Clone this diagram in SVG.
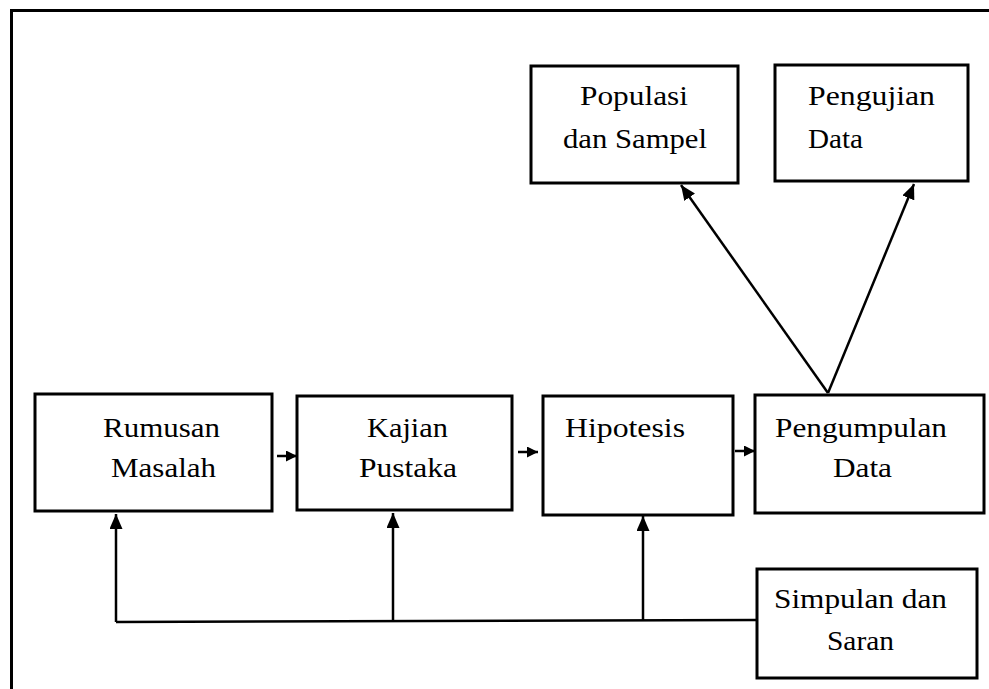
<svg xmlns="http://www.w3.org/2000/svg" width="989" height="689" viewBox="0 0 989 689">
<style>
.box{fill:#fff;stroke:#000;stroke-width:3}
.lbl{font-family:"Liberation Serif","Times New Roman",serif;font-size:28px;fill:#000}
.con{stroke:#000;stroke-width:2.5;fill:none}
.frame{stroke:#000;stroke-width:3;fill:none}
</style>
<defs>
<marker id="ah" markerUnits="userSpaceOnUse" markerWidth="15" markerHeight="13" refX="15" refY="6.5" orient="auto">
<path d="M0,0 L15,6.5 L0,13 z" fill="#000"/>
</marker>
<marker id="ahs" markerUnits="userSpaceOnUse" markerWidth="11" markerHeight="11" refX="11" refY="5.5" orient="auto">
<path d="M0,0 L11,5.5 L0,11 z" fill="#000"/>
</marker>
</defs>
<rect width="989" height="689" fill="#fff"/>
<path class="frame" d="M11.5,689 L11.5,10.5 L989,10.5"/>

<g id="populasi">
<rect class="box" x="531" y="66" width="207" height="117"/>
<text class="lbl" x="580" y="105" textLength="108" lengthAdjust="spacingAndGlyphs">Populasi</text>
<text class="lbl" x="563" y="148" textLength="144" lengthAdjust="spacingAndGlyphs">dan Sampel</text>
</g>
<g id="pengujian">
<rect class="box" x="775" y="65" width="193" height="116"/>
<text class="lbl" x="808" y="105" textLength="127" lengthAdjust="spacingAndGlyphs">Pengujian</text>
<text class="lbl" x="808" y="148" textLength="55" lengthAdjust="spacingAndGlyphs">Data</text>
</g>
<g id="rumusan">
<rect class="box" x="35" y="394" width="237" height="117"/>
<text class="lbl" x="103" y="437" textLength="117" lengthAdjust="spacingAndGlyphs">Rumusan</text>
<text class="lbl" x="111" y="477" textLength="105" lengthAdjust="spacingAndGlyphs">Masalah</text>
</g>
<g id="kajian">
<rect class="box" x="297" y="396" width="215" height="114"/>
<text class="lbl" x="367" y="437" textLength="81" lengthAdjust="spacingAndGlyphs">Kajian</text>
<text class="lbl" x="359" y="477" textLength="98" lengthAdjust="spacingAndGlyphs">Pustaka</text>
</g>
<g id="hipotesis">
<rect class="box" x="543" y="396" width="190" height="119"/>
<text class="lbl" x="565" y="437" textLength="120" lengthAdjust="spacingAndGlyphs">Hipotesis</text>
</g>
<g id="pengumpulan">
<rect class="box" x="755" y="395" width="229" height="118"/>
<text class="lbl" x="775" y="437" textLength="172" lengthAdjust="spacingAndGlyphs">Pengumpulan</text>
<text class="lbl" x="833" y="477" textLength="59" lengthAdjust="spacingAndGlyphs">Data</text>
</g>
<g id="simpulan">
<rect class="box" x="757" y="569" width="220" height="109"/>
<text class="lbl" x="774" y="608" textLength="173" lengthAdjust="spacingAndGlyphs">Simpulan dan</text>
<text class="lbl" x="827" y="650" textLength="67" lengthAdjust="spacingAndGlyphs">Saran</text>
</g>

<g id="connectors">
<line class="con" x1="277" y1="456" x2="297" y2="456" marker-end="url(#ahs)"/>
<line class="con" x1="518" y1="452" x2="538" y2="452" marker-end="url(#ahs)"/>
<line class="con" x1="735" y1="451" x2="755" y2="451" marker-end="url(#ahs)"/>
<line class="con" x1="828" y1="393" x2="681" y2="185" marker-end="url(#ah)"/>
<line class="con" x1="828" y1="393" x2="914" y2="184" marker-end="url(#ah)"/>
<line class="con" stroke-width="2" x1="116" y1="622" x2="757" y2="620"/>
<line class="con" x1="116" y1="622" x2="116" y2="514" marker-end="url(#ah)"/>
<line class="con" x1="393" y1="621" x2="393" y2="513" marker-end="url(#ah)"/>
<line class="con" x1="643" y1="621" x2="643" y2="516" marker-end="url(#ah)"/>
</g>
</svg>
